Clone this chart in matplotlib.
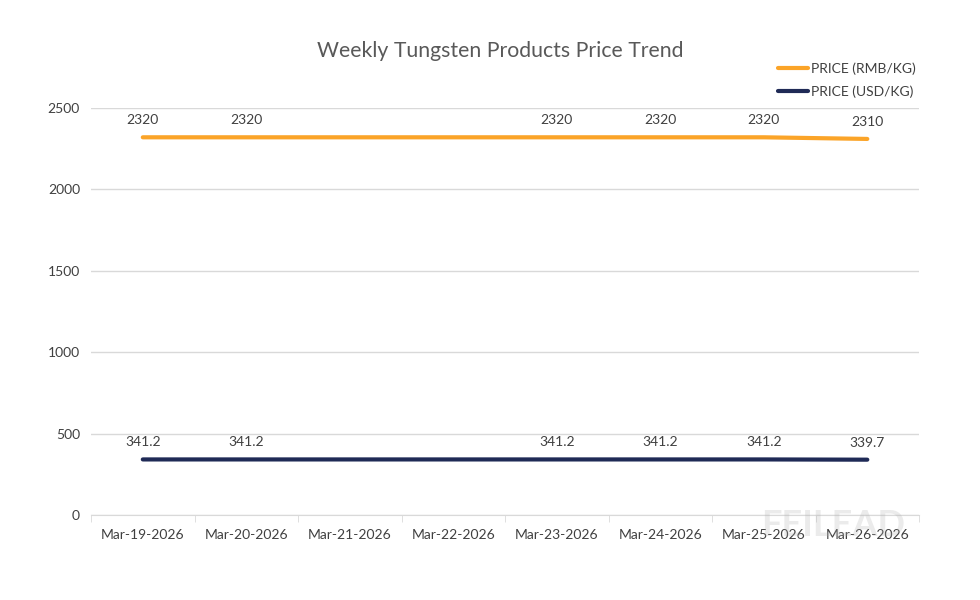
import matplotlib
matplotlib.use("Agg")
import matplotlib.pyplot as plt
import numpy as np

# data
dates = ["Mar-19-2026", "Mar-20-2026", "Mar-21-2026", "Mar-22-2026",
         "Mar-23-2026", "Mar-24-2026", "Mar-25-2026", "Mar-26-2026"]
rmb = [2320, 2320, np.nan, np.nan, 2320, 2320, 2320, 2310]
usd = [341.2, 341.2, np.nan, np.nan, 341.2, 341.2, 341.2, 339.7]

plt.rcParams['font.family'] = ['Lato', 'DejaVu Sans']
txt = '#404040'

fig = plt.figure(figsize=(9.8, 6), dpi=100)
ax = fig.add_axes([0.0929, 0.1417, 0.8449, 0.6783])

x = np.arange(len(dates))
series = [(rmb, '#FBA428', 'PRICE (RMB/KG)', '{:g}'),
          (usd, '#1F2A56', 'PRICE (USD/KG)', '{:.1f}')]
for vals, col, lab, fmt in series:
    v = np.array(vals, dtype=float)
    ok = ~np.isnan(v)
    ax.plot(x[ok], v[ok], color=col, lw=3, label=lab, solid_capstyle='round')
    for xi, yi in zip(x[ok], v[ok]):
        ax.annotate(fmt.format(yi), (xi, yi), xytext=(0, 8), textcoords='offset points',
                    ha='center', va='bottom', fontsize=10, color=txt)

ax.set_xlim(-0.5, len(dates) - 0.5)
ax.set_ylim(0, 2500)
ax.set_yticks([0, 500, 1000, 1500, 2000, 2500])
ax.set_xticks(x)
ax.set_xticklabels(dates)
ax.set_xticks(np.arange(-0.5, len(dates)), minor=True)
ax.tick_params(axis='x', which='major', length=0, pad=10, labelsize=10, labelcolor=txt)
ax.tick_params(axis='x', which='minor', length=5, color='#d9d9d9')
ax.tick_params(axis='y', length=0, pad=8, labelsize=10, labelcolor=txt)
ax.grid(axis='y', color='#d9d9d9', lw=1)
ax.set_axisbelow(True)
for s in ['top', 'right', 'left']:
    ax.spines[s].set_visible(False)
ax.spines['bottom'].set_color('#d9d9d9')

fig.text(0.51, 0.915, 'Weekly Tungsten Products Price Trend', ha='center', va='center',
         fontsize=15.3, color='#595959')

ax.legend(loc='lower right', bbox_to_anchor=(1.008, 1.0), frameon=False, fontsize=10,
          labelcolor=txt, handlelength=2.2, handletextpad=0.2, labelspacing=0.75,
          borderaxespad=0.3)

# watermark
fig.text(0.85, 0.125, 'FEILEAD', ha='center', va='center', fontsize=26, fontweight='bold',
         color='#b0b0b0', alpha=0.25, zorder=0)

fig.savefig('out.png', dpi=100)
